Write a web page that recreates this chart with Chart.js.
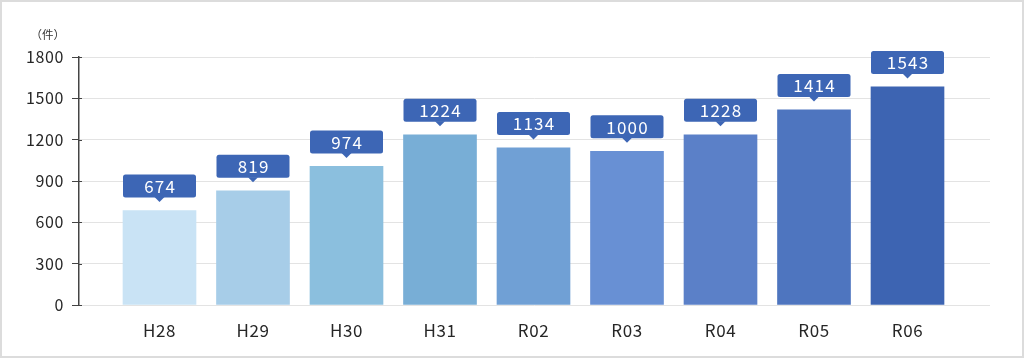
<!DOCTYPE html>
<html>
<head>
<meta charset="utf-8">
<script src="https://cdn.jsdelivr.net/npm/chart.js@4.4.1/dist/chart.umd.min.js"></script>
<style>
  html, body { margin: 0; padding: 0; background: #fff; }
  #wrap { position: relative; width: 1024px; height: 358px; }
  #frame { position: absolute; left: 0; top: 0; width: 1024px; height: 358px; box-sizing: border-box; border: 2px solid #dcdcdc; pointer-events: none; }
  canvas { position: absolute; left: 0; top: 0; }
</style>
</head>
<body>
<div id="wrap">
  <canvas id="c" width="1024" height="358"></canvas>
  <div id="frame"></div>
</div>
<script>
// ---- data ----
const categories = ['H28', 'H29', 'H30', 'H31', 'R02', 'R03', 'R04', 'R05', 'R06'];
// bar heights
const barValues = [686, 829, 1006, 1236, 1140, 1116, 1236, 1416, 1583];
// numbers printed in the callouts
const calloutLabels = ['674', '819', '974', '1224', '1134', '1000', '1228', '1414', '1543'];
const barColors = ['#c9e3f5', '#a7cde8', '#8bbfde', '#78aed6', '#70a0d5', '#6890d4', '#5b80c8', '#4e75bf', '#3d64b2'];
const yTicks = [0, 300, 600, 900, 1200, 1500, 1800];
const unitLabel = '（件）';

const FONT = '"Noto Sans CJK JP", "Noto Sans", sans-serif';

const spacingPlugin = {
  id: 'spacing',
  beforeLayout(chart) { if (chart.ctx.letterSpacing !== undefined) chart.ctx.letterSpacing = '0.6px'; },
  beforeDraw(chart) { if (chart.ctx.letterSpacing !== undefined) chart.ctx.letterSpacing = '0.6px'; }
};

// short tick stubs crossing the y axis line to the right
const tickStubPlugin = {
  id: 'tickStubs',
  afterDraw(chart) {
    const y = chart.scales.y;
    const ctx = chart.ctx;
    ctx.save();
    ctx.strokeStyle = '#444';
    ctx.lineWidth = 1;
    y.ticks.forEach(t => {
      const py = Math.round(y.getPixelForValue(t.value)) + 0.5;
      ctx.beginPath();
      ctx.moveTo(y.right, py);
      ctx.lineTo(y.right + 3, py);
      ctx.stroke();
    });
    ctx.restore();
  }
};

const calloutPlugin = {
  id: 'callouts',
  afterDatasetsDraw(chart) {
    const ctx = chart.ctx;
    const meta = chart.getDatasetMeta(0);
    ctx.save();
    meta.data.forEach((el, i) => {
      const x = el.x, top = el.y;
      const w = 73, h = 23, gap = 13, r = 2.5;
      const bx = x - w / 2, by = top - gap - h;
      ctx.fillStyle = '#3d66b5';
      ctx.beginPath();
      ctx.roundRect(bx, by, w, h, r);
      ctx.fill();
      ctx.beginPath();
      ctx.moveTo(x - 5, by + h - 0.5);
      ctx.lineTo(x + 5, by + h - 0.5);
      ctx.lineTo(x, by + h + 4.5);
      ctx.closePath();
      ctx.fill();
      ctx.fillStyle = '#ffffff';
      ctx.font = '17px ' + FONT;
      ctx.textAlign = 'center';
      ctx.textBaseline = 'middle';
      if (ctx.letterSpacing !== undefined) ctx.letterSpacing = '1.2px';
      ctx.fillText(calloutLabels[i], x + 0.6, by + h / 2 + 0.5);
    });
    ctx.restore();
  }
};

const unitPlugin = {
  id: 'unit',
  afterDraw(chart) {
    const ctx = chart.ctx;
    ctx.save();
    ctx.fillStyle = '#333';
    ctx.font = '11.5px ' + FONT;
    if (ctx.letterSpacing !== undefined) ctx.letterSpacing = '0px';
    ctx.textAlign = 'right';
    ctx.textBaseline = 'middle';
    ctx.fillText(unitLabel, 65, 35);
    ctx.restore();
  }
};

const areaLeft = 79, areaRight = 990;
const firstCenter = 159.5, step = 93.5;

new Chart(document.getElementById('c'), {
  type: 'bar',
  data: {
    datasets: [{
      data: barValues.map((v, i) => ({ x: i, y: v })),
      backgroundColor: barColors,
      borderWidth: 0,
      barThickness: 73
    }]
  },
  options: {
    responsive: false,
    animation: false,
    devicePixelRatio: 1,
    layout: { padding: { top: 57, right: 1024 - areaRight, bottom: 13, left: 0 } },
    plugins: { legend: { display: false }, tooltip: { enabled: false } },
    scales: {
      x: {
        type: 'linear',
        offset: false,
        min: (areaLeft - firstCenter) / step,
        max: (areaRight - firstCenter) / step,
        afterFit(s) { s.height = 40; },
        grid: { display: false, offset: false },
        border: { display: false },
        ticks: {
          stepSize: 1,
          includeBounds: false,
          autoSkip: false,
          maxRotation: 0,
          padding: 7,
          color: '#262626',
          font: { family: FONT, size: 17 },
          callback: (v) => Number.isInteger(v) && categories[v] ? categories[v] : ''
        }
      },
      y: {
        min: 0,
        max: 1800,
        afterFit(s) { s.width = areaLeft; },
        afterBuildTicks(s) { s.ticks = yTicks.map(v => ({ value: v })); },
        grid: { color: '#e3e3e3', lineWidth: 1, tickColor: '#444', tickLength: 7 },
        border: { color: '#444', width: 1.5 },
        ticks: {
          padding: 8,
          color: '#262626',
          font: { family: FONT, size: 16 },
          callback: (v) => String(v)
        }
      }
    }
  },
  plugins: [spacingPlugin, tickStubPlugin, calloutPlugin, unitPlugin]
});
</script>
</body>
</html>
